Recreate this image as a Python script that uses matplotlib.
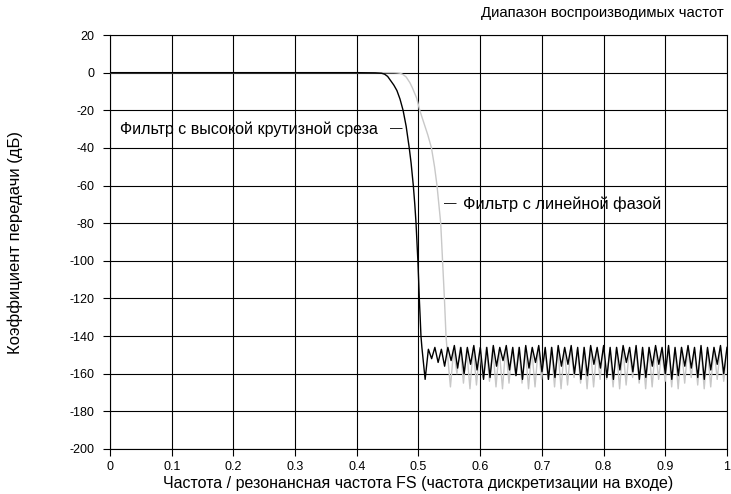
import matplotlib
matplotlib.use('Agg')
import matplotlib.pyplot as plt
import numpy as np

plt.rcParams['font.family'] = ['Liberation Sans', 'DejaVu Sans']
plt.rcParams['axes.unicode_minus'] = False

# Steep (minimum phase) filter: passband + transition band
steep_freq = [0.0, 0.1, 0.2, 0.3, 0.4, 0.43, 0.44, 0.445, 0.45, 0.455, 0.46, 0.465, 0.47,
              0.475, 0.48, 0.485, 0.488, 0.4916, 0.494, 0.496, 0.4975, 0.499, 0.5002,
              0.5013, 0.5027, 0.504]
steep_gain = [0, 0, 0, 0, 0, -0.1, -0.3, -0.8, -2.0, -4.3, -6.6, -9.5, -14,
              -20, -28.5, -40, -48, -60, -70, -80, -90, -100, -110,
              -120, -130, -140]

# Steep filter stopband ripple (peaks / troughs, alternating)
steep_stop_start = 0.5055
steep_stop_end = 1.0
steep_peaks = [-146, -147, -146, -147, -146, -145, -146, -146, -145, -146, -146, -145,
               -146, -145, -146, -146, -145, -146, -145, -146, -146, -145, -146, -145,
               -146, -146, -145, -146, -145, -146, -146, -145, -146, -145, -146, -146,
               -145, -146, -145, -146, -146, -145, -146, -145, -146, -146, -145, -146]
steep_troughs = [-163, -152, -154, -156, -153, -157, -160, -155, -158, -163, -162, -156,
                 -153, -158, -161, -163, -157, -154, -159, -163, -162, -156, -155, -160,
                 -163, -161, -155, -157, -162, -163, -158, -154, -159, -163, -162, -156,
                 -155, -160, -163, -161, -156, -157, -162, -163, -158, -155, -160]

# Linear phase filter: passband + transition band
linear_freq = [0.0, 0.1, 0.2, 0.3, 0.4, 0.46, 0.465, 0.47, 0.475, 0.48, 0.486, 0.49,
               0.497, 0.502, 0.51, 0.515, 0.521, 0.526, 0.53, 0.533, 0.536, 0.5375,
               0.539, 0.5405, 0.542, 0.5433, 0.5446]
linear_gain = [0, 0, 0, 0, 0, 0, -0.1, -0.3, -1.0, -2.3, -5.3, -8,
               -13.5, -20, -28, -33, -40, -50, -60, -70, -80, -90,
               -100, -110, -120, -130, -140]

# Linear phase filter stopband ripple
linear_stop_start = 0.5465
linear_stop_end = 1.0
linear_peaks = [-148, -147, -146, -147, -146, -147, -146, -146, -147, -146, -147, -146,
                -146, -147, -146, -147, -146, -146, -147, -146, -147, -146, -146, -147,
                -146, -147, -146, -146, -147, -146, -147, -146, -146, -147, -146, -147,
                -146, -146, -147, -146, -147, -146, -146, -147]
linear_troughs = [-167, -160, -165, -168, -166, -162, -164, -167, -168, -165, -161, -165,
                  -168, -167, -163, -163, -167, -168, -166, -162, -165, -168, -167, -163,
                  -163, -167, -168, -166, -162, -165, -168, -167, -163, -164, -167, -168,
                  -165, -162, -166, -168, -167, -163, -164]

x_ticks = [0, 0.1, 0.2, 0.3, 0.4, 0.5, 0.6, 0.7, 0.8, 0.9, 1]
x_tick_labels = ['0', '0.1', '0.2', '0.3', '0.4', '0.5', '0.6', '0.7', '0.8', '0.9', '1']
y_ticks = list(range(-200, 21, 20))


def ripple(start, end, peaks, troughs):
    vals = []
    for i in range(len(troughs)):
        vals.append(peaks[i])
        vals.append(troughs[i])
    vals.append(peaks[len(troughs)])
    xs = np.linspace(start, end, len(vals))
    return list(xs), vals


lx, ly = ripple(linear_stop_start, linear_stop_end, linear_peaks, linear_troughs)
sx, sy = ripple(steep_stop_start, steep_stop_end, steep_peaks, steep_troughs)

fig = plt.figure(figsize=(7.31, 4.94), dpi=100)
ax = fig.add_axes([0.1505, 0.0911, 0.8440, 0.8380])

ax.plot(linear_freq + lx, linear_gain + ly, color='#c8c8c8', lw=1.0, zorder=3,
        solid_joinstyle='round')
ax.plot(steep_freq + sx, steep_gain + sy, color='black', lw=1.0, zorder=4,
        solid_joinstyle='round')

ax.set_xlim(0, 1)
ax.set_ylim(-200, 20)
ax.set_xticks(x_ticks)
ax.set_xticklabels(x_tick_labels)
ax.set_yticks(y_ticks)
ax.grid(True, color='black', lw=0.8)
ax.tick_params(direction='out', length=5, width=0.8, labelsize=9, pad=4)
ax.tick_params(axis='y', pad=6)
for s in ax.spines.values():
    s.set_linewidth(0.8)

ax.set_xlabel('Частота / резонансная частота FS (частота дискретизации на входе)',
              fontsize=11.5, va='center')
ax.xaxis.set_label_coords(0.5, -0.0845)
ax.set_ylabel('Коэффициент передачи (дБ)', fontsize=12, va='center')
ax.yaxis.set_label_coords(-0.154, 0.5)

ax.text(0.0162, -30, 'Фильтр с высокой крутизной среза', fontsize=11.5, va='center')
ax.text(0.4538, -30, '—', fontsize=9, va='center')
ax.text(0.5413, -70, '—', fontsize=9, va='center')
ax.text(0.572, -70, 'Фильтр с линейной фазой', fontsize=11.8, va='center')

fig.text(0.990, 0.973, 'Диапазон воспроизводимых частот', fontsize=10.7, ha='right', va='center')

fig.savefig('out.png', dpi=100)
